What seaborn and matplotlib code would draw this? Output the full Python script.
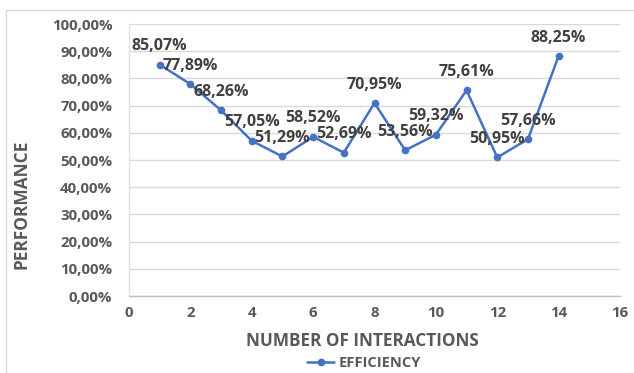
import matplotlib
matplotlib.use("Agg")
import matplotlib.pyplot as plt
import seaborn as sns
import pandas as pd
from matplotlib.ticker import FuncFormatter, MultipleLocator
from matplotlib.patches import Rectangle

# Data
interactions = [1, 2, 3, 4, 5, 6, 7, 8, 9, 10, 11, 12, 13, 14]
efficiency = [85.07, 77.89, 68.26, 57.05, 51.29, 58.52, 52.69, 70.95,
              53.56, 59.32, 75.61, 50.95, 57.66, 88.25]
x_ticks = [0, 2, 4, 6, 8, 10, 12, 14, 16]
series_name = "EFFICIENCY"

sns.set_style("white")
plt.rcParams['font.family'] = ['Open Sans', 'DejaVu Sans']

TXT = "#595959"
LBL = "#404040"
BLUE = "#4472C4"

fig = plt.figure(figsize=(6.34, 3.73), dpi=100)
ax = fig.add_axes([129/634, 1-296/373, (620-129)/634, (296-24)/373])

df = pd.DataFrame({"x": interactions, "y": efficiency})
sns.lineplot(data=df, x="x", y="y", ax=ax, color=BLUE, marker="o",
             markersize=5.5, markeredgewidth=0, linewidth=1.8, label=series_name,
             legend=False)

for xv, yv in zip(interactions, efficiency):
    ax.annotate(f"{yv:.2f}%".replace(".", ","), (xv, yv), xytext=(0, 7.5),
                textcoords="offset points", ha="center", va="bottom",
                fontsize=11.5, fontweight="bold", color=LBL)

ax.set_xlim(0, 16)
ax.set_ylim(0, 100)
ax.set_xticks(x_ticks)
ax.yaxis.set_major_locator(MultipleLocator(10))
ax.yaxis.set_major_formatter(FuncFormatter(lambda v, p: f"{v:.2f}%".replace(".", ",")))
ax.grid(axis="y", color="#d9d9d9", linewidth=1)
ax.set_axisbelow(True)
for s in ["top", "right"]:
    ax.spines[s].set_visible(False)
ax.spines["left"].set_color("#e3e3e3")
ax.spines["bottom"].set_color("#bfbfbf")
ax.spines["left"].set_linewidth(1)
ax.spines["bottom"].set_linewidth(1)
ax.tick_params(axis="both", length=0, labelsize=10.8, labelcolor=TXT)
ax.tick_params(axis="y", pad=12)
ax.tick_params(axis="x", pad=7)
for lab in ax.get_xticklabels() + ax.get_yticklabels():
    lab.set_fontweight("bold")
ax.set_xlabel("")
ax.set_ylabel("")

fig.text(362/634, 1-341/373, "NUMBER OF INTERACTIONS", ha="center", va="center",
         fontsize=12.3, fontweight="bold", color=TXT)
fig.text(22/634, 1-204/373, "PERFORMANCE", ha="center", va="center",
         rotation=90, fontsize=12.5, fontweight="bold", color=TXT)

handles, labels = ax.get_legend_handles_labels()
leg = fig.legend(handles, labels, loc="center", bbox_to_anchor=(364/634, 1-363/373),
                 frameon=False, handlelength=1.9, handletextpad=0.3,
                 prop={"weight": "bold", "size": 10.5})
for t in leg.get_texts():
    t.set_color(TXT)

fig.patches.append(Rectangle((6/634, -0.1), 1.2, 1 - 10/373 + 0.1,
                             transform=fig.transFigure, fill=False,
                             edgecolor="#d9d9d9", linewidth=1))

fig.savefig("out.png", dpi=100)
